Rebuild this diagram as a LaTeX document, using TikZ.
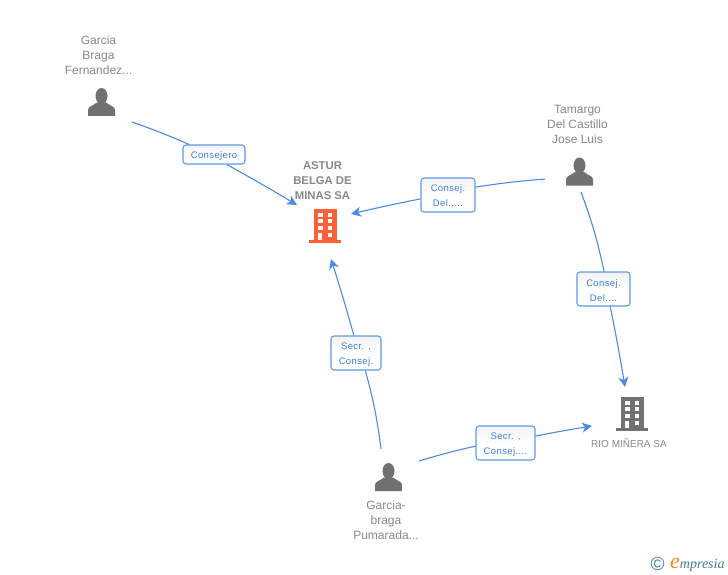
\documentclass[tikz,border=0pt]{standalone}
\usepackage{fontspec}
\setmainfont{Liberation Sans}
\newfontfamily\labfont[LetterSpace=4]{Liberation Sans}
\newfontfamily\logofont{Liberation Serif}
\usetikzlibrary{arrows.meta}
\definecolor{linkblue}{HTML}{4A8BE3}
\definecolor{boxblue}{HTML}{5F9BE8}
\definecolor{labblue}{HTML}{3F7FD8}
\definecolor{namegray}{HTML}{888888}
\definecolor{icongray}{HTML}{717171}
\definecolor{redicon}{HTML}{FF6136}
\definecolor{logoteal}{HTML}{3E7F96}
\definecolor{logoorange}{HTML}{F08A24}
\newcommand\lowered{\rule{0pt}{10pt}}
\tikzset{
  x=1pt,y=-1pt,
  linkline/.style={draw=linkblue,line width=1.1pt},
  linkarrow/.style={linkline,-{Stealth[length=10pt,width=10pt,inset=3pt]}},
  labelbox/.style={draw=boxblue,line width=1.1pt,rounded corners=3pt,top color=black!5,bottom color=white,middle color=white,
    text=labblue,font=\labfont\fontsize{9.5}{15}\selectfont,align=center,inner sep=0pt},
  namenode/.style={text=namegray,font=\fontsize{12}{15}\selectfont,align=center,inner sep=0pt},
  boldnode/.style={namenode,font=\bfseries\fontsize{11.3}{15}\selectfont},
  person/.pic={
    \fill[icongray] (0,-6) ellipse[x radius=6,y radius=8];
    \fill[icongray] (-13.5,14) -- (-13.5,8) .. controls (-13.5,4.5) and (-9,4) .. (-4.5,0.5) -- (4.5,0.5)
      .. controls (9,4) and (13.5,4.5) .. (13.5,8) -- (13.5,14) -- cycle;
  },
  pics/building/.style={code={
    \fill[#1] (-11.5,-17) rectangle (11.5,14);
    \fill[#1] (-16,14) rectangle (16,17);
    \foreach \yy in {-13.5,-7,0}{
      \fill[white] (-7,\yy) rectangle (-2.2,{\yy+4.4});
      \fill[white] (2.5,\yy) rectangle (7.3,{\yy+4.4});
    }
    \fill[white] (-7,6.5) rectangle (-2.7,14);
    \fill[white] (2.5,6.5) rectangle (7.3,11);
  }},
}
\begin{document}
\begin{tikzpicture}
\useasboundingbox[fill=white] (0,0) rectangle (728,575);

% Icons
\pic at (101.5,102) {person};
\pic at (579.5,171.5) {person};
\pic at (388.5,477) {person};
\pic at (325,226) {building=redicon};
\pic at (632,414) {building=icongray};

% Names
\node[namenode] (garcia) at (98.5,55) {Garcia\\Braga\\Fernandez...};
\node[namenode] (tamargo) at (577.5,124) {Tamargo\\Del Castillo\\Jose Luis};
\node[boldnode] (astur) at (322.5,181) {ASTUR\\BELGA DE\\MINAS SA};
\node[namenode] (pumarada) at (386,520) {Garcia-\\braga\\Pumarada...};
\node[namenode,font=\fontsize{10}{15}\selectfont] (rio) at (629,443) {RIO MIÑERA SA};

% Connector ends
\coordinate (s1) at (132,122);
\coordinate (e1) at (297,205);
\coordinate (s2) at (545,179);
\coordinate (e2) at (351,214);
\coordinate (s3) at (581,192);
\coordinate (e3) at (625,387);
\coordinate (s4) at (381,449);
\coordinate (e4) at (331,259);
\coordinate (s5) at (419,461);
\coordinate (e5) at (592,426);

% Labels
\node[labelbox,minimum width=62pt,minimum height=19pt] (l1) at (214,154.5) {\lowered Consejero};
\node[labelbox,minimum width=54pt,minimum height=34pt] (l2) at (448,195) {\lowered Consej.\\Del.,...};
\node[labelbox,minimum width=53pt,minimum height=34pt] (l3) at (603.5,289) {\lowered Consej.\\Del....};
\node[labelbox,minimum width=50pt,minimum height=34pt] (l4) at (356,353) {\lowered Secr. ,\\Consej.};
\node[labelbox,minimum width=59pt,minimum height=34pt] (l5) at (505.5,443) {\lowered Secr. ,\\Consej....};

% Connectors
\draw[linkline] (s1) to[bend left=2] (l1.158);
\draw[linkarrow] (l1.-38) to[bend left=1] (e1);
\draw[linkline] (s2) to[bend right=2] (l2.16);
\draw[linkarrow] (l2.188) to[bend right=1] (e2);
\draw[linkline] (s3) to[bend left=4] (l3.88);
\draw[linkarrow] (l3.-69) to[bend left=1] (e3);
\draw[linkline] (s4) to[bend right=4] (l4.-62);
\draw[linkarrow] (l4.97) to[bend right=1] (e4);
\draw[linkline] (s5) to[bend left=2] (l5.186);
\draw[linkarrow] (l5.13) to[bend left=1] (e5);

% Logo
\node[text=logoteal,inner sep=0pt,font=\fontsize{19}{19}\selectfont] (copy) at (657.5,564) {©};
\node[anchor=base west,inner sep=0pt,text=logoteal,font=\logofont\itshape\fontsize{14}{14}\selectfont] (logo) at (670,568.5) {{\color{logoorange}\fontsize{22}{22}\selectfont e}mpresia};
\end{tikzpicture}
\end{document}
